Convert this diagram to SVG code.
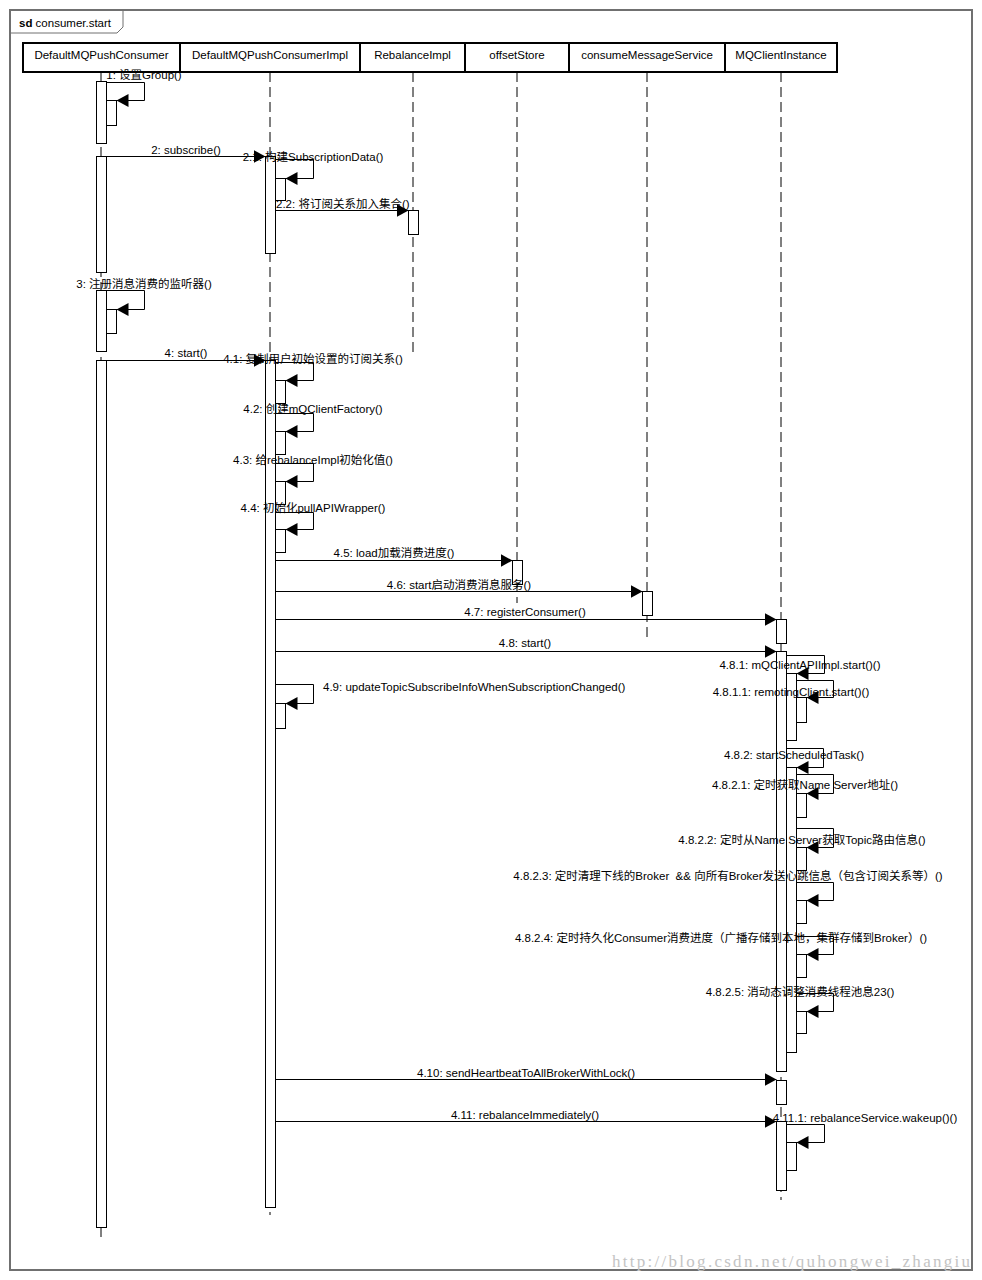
<svg xmlns="http://www.w3.org/2000/svg" width="982" height="1280" viewBox="0 0 982 1280">
<style>
.t{font-family:"Liberation Sans","Noto Sans CJK SC",sans-serif;font-size:11.5px;fill:#000;white-space:pre}
.m{text-anchor:middle}
.hdr{fill:#fff;stroke:#000;stroke-width:2}
.ll{stroke:#000;stroke-width:1;stroke-dasharray:10 5;fill:none}
.bar{fill:#fff;stroke:#000;stroke-width:1}
.c{stroke:#000;stroke-width:1;fill:none;marker-end:url(#ah)}
</style>
<defs>
<marker id="ah" markerUnits="userSpaceOnUse" markerWidth="13" markerHeight="14" refX="12" refY="6.5" orient="auto">
<path d="M0,0 L12,6.5 L0,13 z" fill="#000"/>
</marker>
</defs>
<rect x="0" y="0" width="982" height="1280" fill="#fff"/>
<g id="frame">
<rect x="10" y="10" width="962" height="1260" fill="none" stroke="#707070" stroke-width="2"/>
<path d="M10,33 L117,33 L123,27 L123,10" fill="none" stroke="#707070" stroke-width="1"/>
<text class="t" x="19" y="27" font-size="12"><tspan font-weight="bold">sd</tspan> consumer.start</text>
</g>
<g id="DefaultMQPushConsumer">
<line class="ll" x1="101" y1="72" x2="101" y2="1240"/>
<rect class="hdr" x="23" y="43" width="157" height="29"/>
<text class="t m" x="101.5" y="59">DefaultMQPushConsumer</text>
<rect class="bar" x="96.5" y="81.5" width="10" height="62"/>
<rect class="bar" x="106.5" y="100.5" width="10" height="25"/>
<rect class="bar" x="96.5" y="156.5" width="10" height="116"/>
<rect class="bar" x="96.5" y="290.5" width="10" height="61"/>
<rect class="bar" x="106.5" y="309.5" width="10" height="24"/>
<rect class="bar" x="96.5" y="360.5" width="10" height="867"/>
</g>
<g id="DefaultMQPushConsumerImpl">
<line class="ll" x1="270" y1="72" x2="270" y2="1215"/>
<rect class="hdr" x="180" y="43" width="180" height="29"/>
<text class="t m" x="270" y="59">DefaultMQPushConsumerImpl</text>
<rect class="bar" x="265.5" y="156.5" width="10" height="97"/>
<rect class="bar" x="275.5" y="178.5" width="10" height="22"/>
<rect class="bar" x="265.5" y="360.5" width="10" height="847"/>
<rect class="bar" x="275.5" y="380.5" width="10" height="23"/>
<rect class="bar" x="275.5" y="431.5" width="10" height="23"/>
<rect class="bar" x="275.5" y="481.5" width="10" height="23"/>
<rect class="bar" x="275.5" y="529.5" width="10" height="23"/>
<rect class="bar" x="275.5" y="703.5" width="10" height="25"/>
</g>
<g id="RebalanceImpl">
<line class="ll" x1="413" y1="72" x2="413" y2="356"/>
<rect class="hdr" x="360" y="43" width="105" height="29"/>
<text class="t m" x="412.5" y="59">RebalanceImpl</text>
<rect class="bar" x="408.5" y="210.5" width="10" height="24"/>
</g>
<g id="offsetStore">
<line class="ll" x1="517" y1="72" x2="517" y2="603"/>
<rect class="hdr" x="465" y="43" width="104" height="29"/>
<text class="t m" x="517" y="59">offsetStore</text>
<rect class="bar" x="512.5" y="560.5" width="10" height="24"/>
</g>
<g id="consumeMessageService">
<line class="ll" x1="647" y1="72" x2="647" y2="637"/>
<rect class="hdr" x="569" y="43" width="156" height="29"/>
<text class="t m" x="647" y="59">consumeMessageService</text>
<rect class="bar" x="642.5" y="591.5" width="10" height="24"/>
</g>
<g id="MQClientInstance">
<line class="ll" x1="781" y1="72" x2="781" y2="1200"/>
<rect class="hdr" x="725" y="43" width="112" height="29"/>
<text class="t m" x="781" y="59">MQClientInstance</text>
<rect class="bar" x="776.5" y="619.5" width="10" height="24"/>
<rect class="bar" x="776.5" y="651.5" width="10" height="420"/>
<rect class="bar" x="786.5" y="673.5" width="10" height="67"/>
<rect class="bar" x="796.5" y="697.5" width="10" height="25"/>
<rect class="bar" x="786.5" y="767.5" width="10" height="285"/>
<rect class="bar" x="796.5" y="793.5" width="10" height="24"/>
<rect class="bar" x="796.5" y="847.5" width="10" height="23"/>
<rect class="bar" x="796.5" y="900.5" width="10" height="23"/>
<rect class="bar" x="796.5" y="954.5" width="10" height="23"/>
<rect class="bar" x="796.5" y="1011.5" width="10" height="22"/>
<rect class="bar" x="776.5" y="1080.5" width="10" height="24"/>
<rect class="bar" x="776.5" y="1121.5" width="10" height="69"/>
<rect class="bar" x="786.5" y="1142.5" width="10" height="28"/>
</g>
<g id="connectors">
<polyline class="c" points="106.5,82.5 144.5,82.5 144.5,100.5 116.5,100.5"/>
<polyline class="c" points="106.5,156.5 265.5,156.5"/>
<polyline class="c" points="275.5,159.5 313.5,159.5 313.5,178.5 285.5,178.5"/>
<polyline class="c" points="275.5,210.5 408.5,210.5"/>
<polyline class="c" points="106.5,290.5 144.5,290.5 144.5,309.5 116.5,309.5"/>
<polyline class="c" points="106.5,360.5 265.5,360.5"/>
<polyline class="c" points="275.5,362.5 313.5,362.5 313.5,380.5 285.5,380.5"/>
<polyline class="c" points="275.5,413.5 313.5,413.5 313.5,431.5 285.5,431.5"/>
<polyline class="c" points="275.5,463.5 313.5,463.5 313.5,481.5 285.5,481.5"/>
<polyline class="c" points="275.5,512.5 313.5,512.5 313.5,529.5 285.5,529.5"/>
<polyline class="c" points="275.5,560.5 512.5,560.5"/>
<polyline class="c" points="275.5,591.5 642.5,591.5"/>
<polyline class="c" points="275.5,619.5 776.5,619.5"/>
<polyline class="c" points="275.5,651.5 776.5,651.5"/>
<polyline class="c" points="786.5,655.5 824.5,655.5 824.5,673.5 796.5,673.5"/>
<polyline class="c" points="796.5,680.5 833.5,680.5 833.5,697.5 806.5,697.5"/>
<polyline class="c" points="275.5,684.5 313.5,684.5 313.5,703.5 285.5,703.5"/>
<polyline class="c" points="786.5,748.5 823.5,748.5 823.5,767.5 796.5,767.5"/>
<polyline class="c" points="796.5,774.5 833.5,774.5 833.5,793.5 806.5,793.5"/>
<polyline class="c" points="796.5,828.5 833.5,828.5 833.5,847.5 806.5,847.5"/>
<polyline class="c" points="796.5,882.5 833.5,882.5 833.5,900.5 806.5,900.5"/>
<polyline class="c" points="796.5,936.5 833.5,936.5 833.5,954.5 806.5,954.5"/>
<polyline class="c" points="796.5,993.5 833.5,993.5 833.5,1011.5 806.5,1011.5"/>
<polyline class="c" points="275.5,1079.5 776.5,1079.5"/>
<polyline class="c" points="275.5,1121.5 776.5,1121.5"/>
<polyline class="c" points="786.5,1124.5 824.5,1124.5 824.5,1142.5 796.5,1142.5"/>
</g>
<g id="labels">
<text class="t m" x="144" y="79">1: 设置Group()</text>
<text class="t m" x="186" y="154">2: subscribe()</text>
<text class="t m" x="313" y="161">2.1: 构建SubscriptionData()</text>
<text class="t" x="276" y="208">2.2: 将订阅关系加入集合()</text>
<text class="t m" x="144" y="288">3: 注册消息消费的监听器()</text>
<text class="t m" x="186" y="357">4: start()</text>
<text class="t m" x="313" y="363">4.1: 复制用户初始设置的订阅关系()</text>
<text class="t m" x="313" y="413">4.2: 创建mQClientFactory()</text>
<text class="t m" x="313" y="464">4.3: 给rebalanceImpl初始化值()</text>
<text class="t m" x="313" y="512">4.4: 初始化pullAPIWrapper()</text>
<text class="t m" x="394" y="557">4.5: load加载消费进度()</text>
<text class="t m" x="459" y="589">4.6: start启动消费消息服务()</text>
<text class="t m" x="525" y="616">4.7: registerConsumer()</text>
<text class="t m" x="525" y="647">4.8: start()</text>
<text class="t m" x="800" y="669">4.8.1: mQClientAPIImpl.start()()</text>
<text class="t m" x="791" y="696">4.8.1.1: remotingClient.start()()</text>
<text class="t" x="323" y="691">4.9: updateTopicSubscribeInfoWhenSubscriptionChanged()</text>
<text class="t m" x="794" y="759">4.8.2: startScheduledTask()</text>
<text class="t m" x="805" y="789">4.8.2.1: 定时获取Name Server地址()</text>
<text class="t m" x="802" y="844">4.8.2.2: 定时从Name Server获取Topic路由信息()</text>
<text class="t m" x="728" y="880">4.8.2.3: 定时清理下线的Broker  &amp;&amp; 向所有Broker发送心跳信息（包含订阅关系等）()</text>
<text class="t m" x="721" y="942">4.8.2.4: 定时持久化Consumer消费进度（广播存储到本地，集群存储到Broker）()</text>
<text class="t m" x="800" y="996">4.8.2.5: 消动态调整消费线程池息23()</text>
<text class="t m" x="526" y="1077">4.10: sendHeartbeatToAllBrokerWithLock()</text>
<text class="t m" x="525" y="1119">4.11: rebalanceImmediately()</text>
<text class="t m" x="865" y="1122">4.11.1: rebalanceService.wakeup()()</text>
</g>
<text x="612" y="1267" font-family="'Liberation Serif',serif" font-size="17" fill="#c4c4c4" textLength="358">http://blog.csdn.net/quhongwei_zhangiu</text>
</svg>
